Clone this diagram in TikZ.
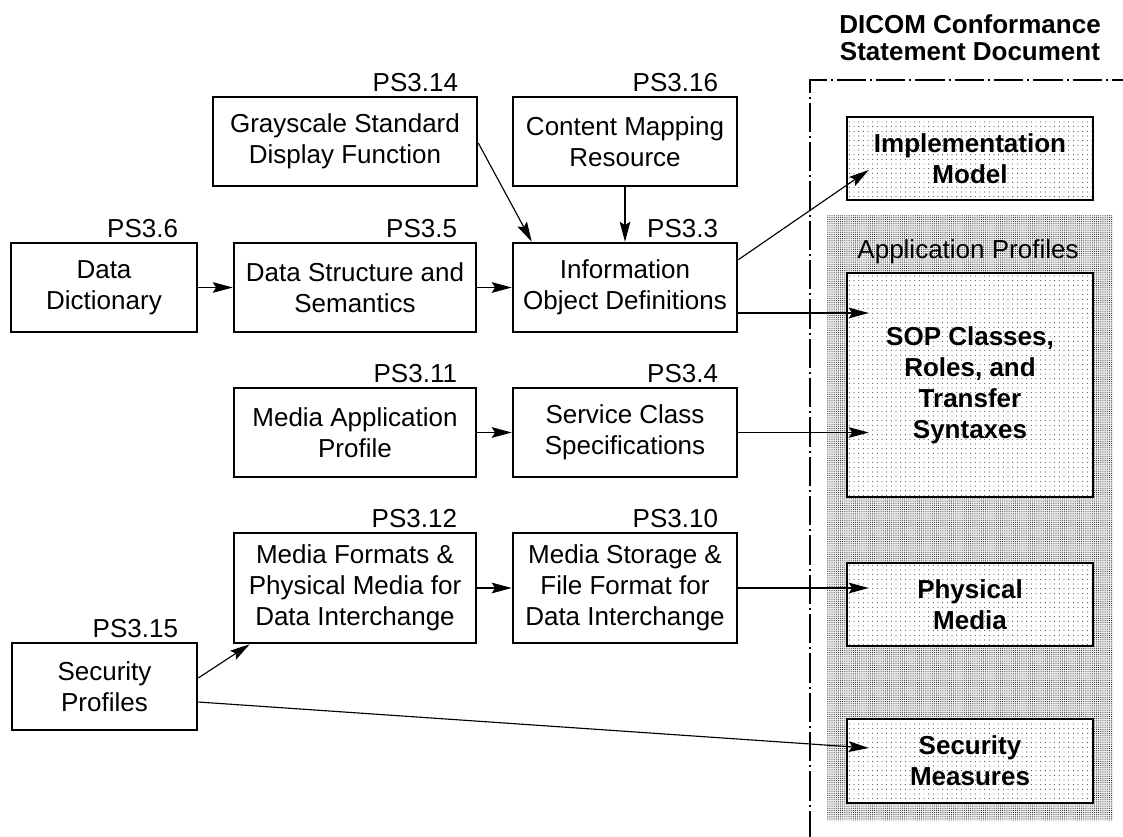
\documentclass[tikz,border=0pt]{standalone}
\usepackage{fontspec}
\setmainfont{Liberation Sans}
\usetikzlibrary{arrows.meta,calc,patterns.meta}
\begin{document}
\begin{tikzpicture}[x=0.75pt,y=-0.75pt,
  font=\fontsize{19.5pt}{23.25pt}\selectfont,
  box/.style={draw,line width=1.9pt,align=center,inner sep=0pt,fill=white},
  dotbox/.style={draw,line width=1.9pt,align=center,inner sep=0pt,
    preaction={fill=white},pattern={Dots[distance=3.5pt,radius=0.36pt]},
    font=\fontsize{19.5pt}{23.25pt}\selectfont\bfseries},
  region/.style={inner sep=0pt,preaction={fill=black!7},pattern={Dots[distance=1.6pt,radius=0.36pt]}},
  ps/.style={anchor=base east,inner sep=0pt},
  arr/.style={line width=0.85pt,-{Stealth[length=15pt,width=8pt,inset=2.5pt]}},
  frame/.style={line width=0.8pt,dash pattern=on 22pt off 3pt on 1.5pt off 3pt},
]
\useasboundingbox (0,0) rectangle (1123,836);

% right-hand document area
\coordinate (fb) at (810,840);
\coordinate (fc) at (810,80);
\coordinate (fr) at (1126,80);
\draw[frame] (fb) -- (fc) -- (fr);
\node[align=center,anchor=base,inner sep=0pt,
  font=\fontsize{19.5pt}{20.25pt}\selectfont\bfseries] (title) at (970,60)
  {DICOM Conformance\\Statement Document};

\node[region,minimum width={286*0.75pt},minimum height={605*0.75pt}] (apreg) at (970,517.5) {};
\node[anchor=base,inner sep=0pt] (aptext) at (968,258) {Application Profiles};

\node[dotbox,minimum width={246*0.75pt},minimum height={83*0.75pt}] (impl) at (970,158.5) {Implementation\\Model};
\node[dotbox,minimum width={246*0.75pt},minimum height={224*0.75pt}] (sop) at (970,385) {SOP Classes,\\Roles, and\\Transfer\\Syntaxes};
\node[dotbox,minimum width={246*0.75pt},minimum height={83*0.75pt}] (pm) at (970,604.5) {Physical\\Media};
\node[dotbox,minimum width={246*0.75pt},minimum height={84*0.75pt}] (sm) at (970,761) {Security\\Measures};

% left-hand parts
\node[box,minimum width={264*0.75pt},minimum height={89*0.75pt}] (gsdf) at (345,141.5) {Grayscale Standard\\Display Function};
\node[box,minimum width={224*0.75pt},minimum height={89*0.75pt}] (cmr) at (625,141.5) {Content Mapping\\Resource};
\node[box,minimum width={186*0.75pt},minimum height={89*0.75pt}] (dd) at (104,287.5) {Data\\Dictionary};
\node[box,minimum width={242*0.75pt},minimum height={89*0.75pt}] (dss) at (355,287.5) {Data Structure and\\Semantics};
\node[box,minimum width={224*0.75pt},minimum height={89*0.75pt}] (iod) at (625,287.5) {Information\\Object Definitions};
\node[box,minimum width={242*0.75pt},minimum height={89*0.75pt}] (map) at (355,432.5) {Media Application\\Profile};
\node[box,minimum width={224*0.75pt},minimum height={89*0.75pt}] (scs) at (625,432.5) {Service Class\\Specifications};
\node[box,minimum width={242*0.75pt},minimum height={110*0.75pt}] (mf) at (355,588) {Media Formats \&\\Physical Media for\\Data Interchange};
\node[box,minimum width={224*0.75pt},minimum height={110*0.75pt}] (ms) at (625,588) {Media Storage \&\\File Format for\\Data Interchange};
\node[box,minimum width={185*0.75pt},minimum height={87*0.75pt}] (sp) at (104.5,686.5) {Security\\Profiles};

% part labels
\node[ps] (l14) at ($(gsdf.north east)+(-20,-4)$) {PS3.14};
\node[ps] (l16) at ($(cmr.north east)+(-20,-4)$) {PS3.16};
\node[ps] (l6)  at ($(dd.north east)+(-20,-4)$) {PS3.6};
\node[ps] (l5)  at ($(dss.north east)+(-20,-4)$) {PS3.5};
\node[ps] (l3)  at ($(iod.north east)+(-20,-4)$) {PS3.3};
\node[ps] (l11) at ($(map.north east)+(-20,-4)$) {PS3.11};
\node[ps] (l4)  at ($(scs.north east)+(-20,-4)$) {PS3.4};
\node[ps] (l12) at ($(mf.north east)+(-20,-4)$) {PS3.12};
\node[ps] (l10) at ($(ms.north east)+(-20,-4)$) {PS3.10};
\node[ps] (l15) at ($(sp.north east)+(-20,-4)$) {PS3.15};

% connectors
\draw[arr] (dd.east) -- (dss.west);
\draw[arr] (dss.east) -- (iod.west);
\draw[arr] ($(gsdf.east)+(0,1.5)$) -- ($(iod.north west)+(20,0)$);
\draw[arr] (cmr.south) -- (iod.north);
\draw[arr] ($(iod.north east)+(0,18)$) -- ($(impl.west)+(23,11.5)$);
\draw[arr] ($(iod.east)+(0,25.5)$) -- ($(iod.east -| sop.west)+(23,25.5)$);
\draw[arr] (map.east) -- (scs.west);
\draw[arr] (scs.east) -- ($(scs.east -| sop.west)+(23,0)$);
\draw[arr] (mf.east) -- (ms.west);
\draw[arr] (ms.east) -- ($(ms.east -| pm.west)+(23,0)$);
\draw[arr] ($(sp.east)+(0,-8.5)$) -- ($(mf.south west)+(17,0)$);
\draw[arr] ($(sp.east)+(0,15.5)$) -- ($(sm.west)+(23,-13)$);
\end{tikzpicture}
\end{document}
